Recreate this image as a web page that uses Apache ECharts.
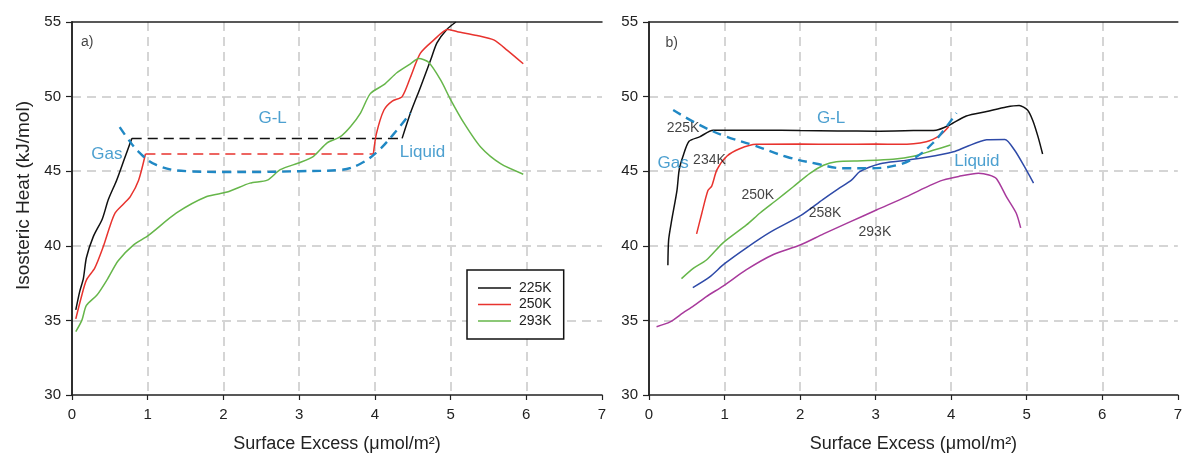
<!DOCTYPE html>
<html>
<head>
<meta charset="utf-8">
<script src="https://cdn.jsdelivr.net/npm/echarts@6/dist/echarts.min.js"></script>
<style>
  html, body { margin: 0; padding: 0; background: #fff; }
  #chart { width: 1185px; height: 463px; }
</style>
</head>
<body>
<div id="chart"></div>
<script>
// ---- axis ranges / ticks ----
const xTicks = [0, 1, 2, 3, 4, 5, 6, 7];
const yTicks = [30, 35, 40, 45, 50, 55];
const xTitle = 'Surface Excess (\u03bcmol/m\u00b2)';
const yTitle = 'Isosteric Heat (kJ/mol)';

// ---- panel a) : isosteric heat vs surface excess ----
const a225Rise = [[0.05,35.7],[0.1,36.9],[0.15,37.8],[0.19,39.2],[0.28,40.6],[0.4,41.8],[0.48,43.1],[0.59,44.4],[0.69,45.8],[0.79,47.2]];
const a225Flat = [[0.79,47.2],[4.36,47.2]];
const a225High = [[4.36,47.2],[4.47,48.9],[4.6,50.6],[4.74,52.5],[4.82,53.6],[4.95,54.5],[5.07,55]];

const a250Rise = [[0.05,35.1],[0.12,36.5],[0.19,37.7],[0.3,38.5],[0.41,39.9],[0.5,41.3],[0.57,42.2],[0.68,42.8],[0.77,43.3],[0.88,44.4],[0.97,46.15]];
const a250Flat = [[0.97,46.15],[3.98,46.15]];
const a250High = [[3.98,46.15],[4.02,47.5],[4.12,49.1],[4.23,49.7],[4.36,50.0],[4.47,51.3],[4.6,52.9],[4.78,53.8],[4.96,54.5],[5.09,54.35],[5.35,54.1],[5.57,53.8],[5.75,53.1],[5.96,52.2]];

const a293 = [[0.05,34.25],[0.13,35.0],[0.19,36.0],[0.33,36.7],[0.46,37.7],[0.61,39.0],[0.81,40.05],[1.01,40.7],[1.38,42.2],[1.78,43.3],[2.05,43.6],[2.35,44.2],[2.58,44.4],[2.75,45.1],[3.02,45.6],[3.19,46.0],[3.37,46.9],[3.54,47.3],[3.68,48.0],[3.81,48.9],[3.94,50.2],[4.12,50.8],[4.29,51.6],[4.47,52.2],[4.58,52.55],[4.71,52.3],[4.87,51.1],[5.0,49.8],[5.18,48.2],[5.4,46.6],[5.66,45.5],[5.96,44.8]];

const aGL = [[0.63,47.95],[0.72,47.3],[0.88,46.3],[1.12,45.4],[1.52,45.0],[2.0,44.95],[2.5,44.95],[3.0,45.0],[3.54,45.08],[3.81,45.5],[4.03,46.3],[4.25,47.5],[4.47,48.9]];

// ---- panel b) ----
const b225 = [[0.25,38.7],[0.26,40.4],[0.3,41.7],[0.37,43.7],[0.4,45.1],[0.45,46.0],[0.53,47.0],[0.67,47.3],[0.85,47.75],[1.5,47.75],[2.0,47.72],[2.5,47.7],[3.0,47.68],[3.5,47.72],[3.8,47.75],[3.98,48.1],[4.2,48.7],[4.47,49.0],[4.73,49.3],[4.9,49.4],[5.01,49.1],[5.08,48.4],[5.15,47.3],[5.21,46.15]];
const b234 = [[0.63,40.8],[0.7,42.2],[0.78,43.7],[0.83,44.0],[0.9,45.1],[1.03,46.0],[1.2,46.5],[1.42,46.8],[2.0,46.82],[2.5,46.8],[3.0,46.82],[3.32,46.8],[3.67,46.98],[3.85,47.4],[3.97,48.0]];
const b250 = [[0.43,37.8],[0.59,38.5],[0.76,39.05],[0.98,40.2],[1.29,41.4],[1.47,42.2],[1.69,43.07],[1.91,43.96],[2.13,44.86],[2.31,45.4],[2.48,45.64],[2.83,45.7],[3.23,45.8],[3.5,46.0],[3.76,46.4],[3.99,46.75]];
const b258 = [[0.58,37.2],[0.8,37.9],[1.0,38.8],[1.3,39.9],[1.6,40.9],[2.0,42.0],[2.3,43.1],[2.5,43.8],[2.68,44.4],[2.79,44.97],[3.06,45.5],[3.36,45.7],[3.67,45.93],[4.03,46.3],[4.2,46.64],[4.47,47.1],[4.71,47.13],[4.84,46.4],[4.97,45.3],[5.09,44.2]];
const b293 = [[0.1,34.58],[0.28,34.9],[0.45,35.5],[0.59,35.97],[0.76,36.6],[0.98,37.3],[1.29,38.4],[1.64,39.4],[2.0,40.05],[2.31,40.8],[2.66,41.6],[3.01,42.4],[3.41,43.3],[3.72,44.05],[3.89,44.4],[4.1,44.65],[4.36,44.86],[4.5,44.75],[4.6,44.5],[4.73,43.3],[4.86,42.2],[4.92,41.2]];
const bGL = [[0.32,49.1],[0.63,48.2],[0.98,47.4],[1.38,46.75],[1.82,45.97],[2.22,45.5],[2.57,45.2],[2.92,45.2],[3.28,45.4],[3.54,45.97],[3.76,46.9],[3.94,48.0],[4.07,48.9]];

// ---- annotations [x, y, text] ----
const aNotesBlack = [[0.2,53.66,'a)']];
const aNotesBlue  = [[2.65,48.57,'G-L'],[0.46,46.15,'Gas'],[4.63,46.29,'Liquid']];
const bNotesBlack = [[0.3,53.6,'b)'],[0.45,47.9,'225K'],[0.8,45.75,'234K'],[1.44,43.4,'250K'],[2.33,42.2,'258K'],[2.99,40.92,'293K']];
const bNotesBlue  = [[2.41,48.57,'G-L'],[0.32,45.55,'Gas'],[4.34,45.68,'Liquid']];

const legendNames = ['225K', '250K', '293K'];

const FONT = 'Arial, "Liberation Sans", Helvetica, sans-serif';
const BLACK = '#111111', RED = '#e8332e', GREEN = '#66b64a', NAVY = '#2e4aa8', PURPLE = '#a83a9c', CYAN = '#2088c4';
const GRIDLINE = { show: true, showMinLine: false, showMaxLine: false, lineStyle: { color: '#c8c8c8', width: 1.5, type: [9, 6] } };

function bottomAxis(gi) {
  return {
    type: 'value', gridIndex: gi, min: xTicks[0], max: xTicks[xTicks.length - 1], interval: 1,
    axisLine: { show: true, onZero: false, lineStyle: { color: '#222', width: 1.5 } },
    axisTick: { show: true, length: 5, lineStyle: { color: '#222', width: 1.2 } },
    axisLabel: { color: '#222', fontSize: 15, fontFamily: FONT, margin: 12 },
    splitLine: GRIDLINE,
    name: xTitle, nameLocation: 'middle', nameGap: 40,
    nameTextStyle: { color: '#222', fontSize: 18, fontFamily: FONT }
  };
}
function topAxis(gi) {
  return {
    type: 'value', gridIndex: gi, position: 'top', min: 0, max: 7,
    axisLine: { show: true, lineStyle: { color: '#222', width: 1.5 } },
    axisTick: { show: false }, axisLabel: { show: false }, splitLine: { show: false }
  };
}
function leftAxis(gi, withTitle) {
  const ax = {
    type: 'value', gridIndex: gi, min: yTicks[0], max: yTicks[yTicks.length - 1], interval: 5,
    axisLine: { show: true, onZero: false, lineStyle: { color: '#222', width: 1.5 } },
    axisTick: { show: true, length: 6, lineStyle: { color: '#222', width: 1.2 } },
    axisLabel: { color: '#222', fontSize: 15, fontFamily: FONT, margin: 11 },
    splitLine: GRIDLINE
  };
  if (withTitle) {
    ax.name = yTitle; ax.nameLocation = 'middle'; ax.nameGap = 39;
    ax.nameTextStyle = { color: '#222', fontSize: 19, fontFamily: FONT, padding: [0, 0, 0, 26] };
  }
  return ax;
}
function rightAxis(gi) {
  return {
    type: 'value', gridIndex: gi, position: 'right', min: 30, max: 55,
    axisLine: { show: true, lineStyle: { color: '#222', width: 1.5 } },
    axisTick: { show: false }, axisLabel: { show: false }, splitLine: { show: false }
  };
}

function line(name, data, color, panel, opts) {
  opts = opts || {};
  return {
    name: name, type: 'line', data: data,
    xAxisIndex: panel === 'a' ? 0 : 2, yAxisIndex: panel === 'a' ? 0 : 2,
    showSymbol: false, symbol: 'none', smooth: opts.smooth || 0.25, clip: true,
    lineStyle: { color: color, width: opts.width || 1.5, type: opts.dash || 'solid' },
    itemStyle: { color: color },
    z: opts.z || 3, animation: false, silent: true
  };
}
function notes(data, color, size, panel) {
  return {
    type: 'scatter', data: data, xAxisIndex: panel === 'a' ? 0 : 2, yAxisIndex: panel === 'a' ? 0 : 2,
    symbolSize: 1, itemStyle: { color: 'rgba(0,0,0,0)' }, silent: true, animation: false, z: 6,
    label: { show: true, position: 'inside', formatter: p => p.data[2], color: color, fontSize: size, fontFamily: FONT }
  };
}

const chart = echarts.init(document.getElementById('chart'), null, { renderer: 'canvas' });
chart.setOption({
  backgroundColor: '#ffffff',
  animation: false,
  grid: [
    { left: 72, top: 22, width: 530, height: 373 },
    { left: 649, top: 22, width: 529, height: 373 }
  ],
  xAxis: [bottomAxis(0), topAxis(0), bottomAxis(1), topAxis(1)],
  yAxis: [leftAxis(0, true), rightAxis(0), leftAxis(1, false), rightAxis(1)],
  legend: {
    data: legendNames, orient: 'vertical', left: 467, top: 270,
    icon: 'rect', itemWidth: 33, itemHeight: 1.6, itemGap: 2.5,
    padding: [11, 12, 11, 11], borderColor: '#111', borderWidth: 1.5, backgroundColor: '#fff',
    textStyle: { color: '#222', fontSize: 14, fontFamily: FONT, padding: [0, 0, 0, 3] }, selectedMode: false
  },
  series: [
    // panel a
    line('225K', a225Rise, BLACK, 'a'),
    line('225K', a225Flat, BLACK, 'a', { dash: [10, 6], smooth: 0 }),
    line('225K', a225High, BLACK, 'a'),
    line('250K', a250Rise, RED, 'a'),
    line('250K', a250Flat, RED, 'a', { dash: [10, 6], smooth: 0 }),
    line('250K', a250High, RED, 'a'),
    line('293K', a293, GREEN, 'a'),
    line('G-L a', aGL, CYAN, 'a', { dash: [9, 6], width: 2.4, smooth: 0.4, z: 4 }),
    notes(aNotesBlack, '#111', 14, 'a'),
    notes(aNotesBlue, CYAN, 17, 'a'),
    // panel b
    line('225K b', b225, BLACK, 'b'),
    line('234K b', b234, RED, 'b'),
    line('250K b', b250, GREEN, 'b'),
    line('258K b', b258, NAVY, 'b'),
    line('293K b', b293, PURPLE, 'b'),
    line('G-L b', bGL, CYAN, 'b', { dash: [9, 6], width: 2.4, smooth: 0.4, z: 4 }),
    notes(bNotesBlack, '#111', 14, 'b'),
    notes(bNotesBlue, CYAN, 17, 'b')
  ]
});
</script>
</body>
</html>
